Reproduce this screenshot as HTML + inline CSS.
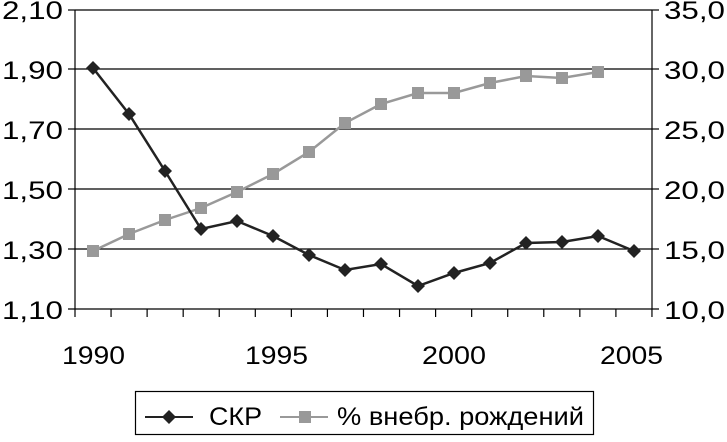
<!DOCTYPE html>
<html><head><meta charset="utf-8"><style>
body{margin:0;background:#fff;width:727px;height:437px;overflow:hidden}
text{font-family:"Liberation Sans",Arial,sans-serif;font-size:25px;fill:#000}
</style></head><body>
<svg width="727" height="437" xmlns="http://www.w3.org/2000/svg">
<g stroke="#000" stroke-width="1.2">
<line x1="75" y1="10" x2="652" y2="10"/>
<line x1="75" y1="69" x2="652" y2="69"/>
<line x1="75" y1="129" x2="652" y2="129"/>
<line x1="75" y1="189" x2="652" y2="189"/>
<line x1="75" y1="249" x2="652" y2="249"/>
<line x1="75" y1="10" x2="75" y2="309"/>
<line x1="652" y1="10" x2="652" y2="309"/>
<line x1="68" y1="309" x2="659" y2="309"/>
<line x1="68" y1="10" x2="75" y2="10"/><line x1="68" y1="69" x2="75" y2="69"/><line x1="68" y1="129" x2="75" y2="129"/><line x1="68" y1="189" x2="75" y2="189"/><line x1="68" y1="249" x2="75" y2="249"/>
<line x1="652" y1="10" x2="659" y2="10"/><line x1="652" y1="69" x2="659" y2="69"/><line x1="652" y1="129" x2="659" y2="129"/><line x1="652" y1="189" x2="659" y2="189"/><line x1="652" y1="249" x2="659" y2="249"/>
</g>
<g stroke="#000" stroke-width="1.2" id="ticks"></g>
<g>
<text x="2" y="19" textLength="61" lengthAdjust="spacingAndGlyphs">2,10</text>
<text x="2" y="79" textLength="61" lengthAdjust="spacingAndGlyphs">1,90</text>
<text x="2" y="139" textLength="61" lengthAdjust="spacingAndGlyphs">1,70</text>
<text x="2" y="199" textLength="61" lengthAdjust="spacingAndGlyphs">1,50</text>
<text x="2" y="259" textLength="61" lengthAdjust="spacingAndGlyphs">1,30</text>
<text x="2" y="319" textLength="61" lengthAdjust="spacingAndGlyphs">1,10</text>
<text x="664" y="19" textLength="61" lengthAdjust="spacingAndGlyphs">35,0</text>
<text x="664" y="79" textLength="61" lengthAdjust="spacingAndGlyphs">30,0</text>
<text x="664" y="139" textLength="61" lengthAdjust="spacingAndGlyphs">25,0</text>
<text x="664" y="199" textLength="61" lengthAdjust="spacingAndGlyphs">20,0</text>
<text x="664" y="259" textLength="61" lengthAdjust="spacingAndGlyphs">15,0</text>
<text x="664" y="319" textLength="61" lengthAdjust="spacingAndGlyphs">10,0</text>
<text x="62" y="364" textLength="63" lengthAdjust="spacingAndGlyphs">1990</text>
<text x="245" y="364" textLength="63" lengthAdjust="spacingAndGlyphs">1995</text>
<text x="422" y="364" textLength="64" lengthAdjust="spacingAndGlyphs">2000</text>
<text x="600" y="364" textLength="63" lengthAdjust="spacingAndGlyphs">2005</text>
</g>
<polyline fill="none" stroke="#999" stroke-width="2.5" points="93,251 129,234 165,220 201,208 237,192 273,174 309,152 345,123 381,104 418,93 454,93 490,83 526,76 562,78 598,72"/>
<g fill="#999" id="sq"></g>
<polyline fill="none" stroke="#222" stroke-width="2.5" points="93,68 129,114 165,171 201,229 237,221 273,236 309,255 345,270 381,264 418,286 454,273 490,263 526,243 562,242 598,236 634,251"/>
<g fill="#222" id="dm"></g>
<rect x="135.5" y="391.5" width="458" height="43" fill="none" stroke="#000" stroke-width="1.2"/>
<line x1="145" y1="417" x2="193" y2="417" stroke="#222" stroke-width="2"/>
<polygon points="169,410 176,417 169,424 162,417" fill="#222"/>
<text x="209" y="425" textLength="53" lengthAdjust="spacingAndGlyphs">СКР</text>
<line x1="280" y1="417" x2="328" y2="417" stroke="#999" stroke-width="2"/>
<rect x="299" y="411" width="12" height="12" fill="#999"/>
<text x="337" y="425" textLength="247" lengthAdjust="spacingAndGlyphs">% внебр. рождений</text>
</svg>
<script>
var ns="http://www.w3.org/2000/svg";
var t=document.getElementById("ticks");
for(var k=0;k<=16;k++){var x=75+36.06*k;var l=document.createElementNS(ns,"line");l.setAttribute("x1",x);l.setAttribute("x2",x);l.setAttribute("y1",309);l.setAttribute("y2",317);t.appendChild(l);}
var p=[[93,251],[129,234],[165,220],[201,208],[237,192],[273,174],[309,152],[345,123],[381,104],[418,93],[454,93],[490,83],[526,76],[562,78],[598,72]];
var s=document.getElementById("sq");
p.forEach(function(a){var r=document.createElementNS(ns,"rect");r.setAttribute("x",a[0]-6);r.setAttribute("y",a[1]-6);r.setAttribute("width",12);r.setAttribute("height",12);s.appendChild(r);});
var d=[[93,68],[129,114],[165,171],[201,229],[237,221],[273,236],[309,255],[345,270],[381,264],[418,286],[454,273],[490,263],[526,243],[562,242],[598,236],[634,251]];
var g=document.getElementById("dm");
d.forEach(function(a){var q=document.createElementNS(ns,"polygon");var x=a[0],y=a[1];q.setAttribute("points",x+","+(y-7)+" "+(x+7)+","+y+" "+x+","+(y+7)+" "+(x-7)+","+y);g.appendChild(q);});
</script>
</body></html>
